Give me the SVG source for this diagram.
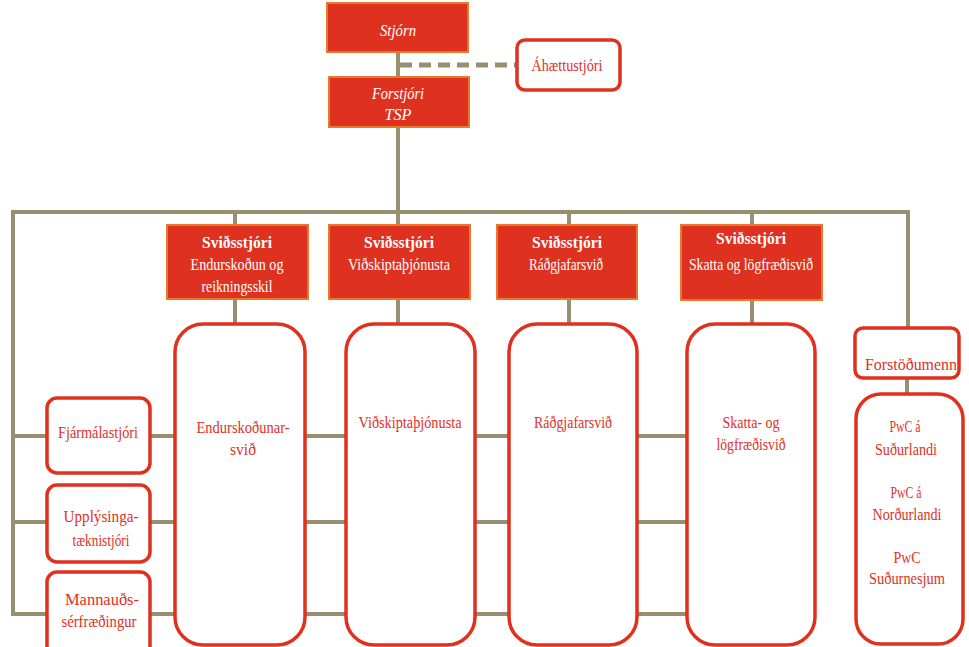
<svg xmlns="http://www.w3.org/2000/svg" width="969" height="647" viewBox="0 0 969 647">
<style>
.ln{stroke:#998F70;stroke-width:4;fill:none}
.dash{stroke:#998F70;stroke-width:5;fill:none;stroke-dasharray:12 7}
.fill{fill:#DF3120;stroke:#E8792A;stroke-width:2}
.out{fill:#fff;stroke:#E0311F;stroke-width:3.5}
.tw{fill:#fff;font-family:"Liberation Serif",serif;font-size:17px;text-anchor:middle}
.tr{fill:#E0311F;font-family:"Liberation Serif",serif;font-size:17px;text-anchor:middle}
.i{font-style:italic}
.b{font-weight:bold}
</style>
<rect width="969" height="647" fill="#fff"/>
<g id="connectors">
<line class="ln" x1="398" y1="52" x2="398" y2="77"/>
<line class="dash" x1="400" y1="65" x2="516" y2="65"/>
<line class="ln" x1="398" y1="127" x2="398" y2="212"/>
<polyline class="ln" points="13,614 13,212 908,212 908,328"/>
<line class="ln" x1="235" y1="212" x2="235" y2="323"/>
<line class="ln" x1="398" y1="212" x2="398" y2="323"/>
<line class="ln" x1="569" y1="212" x2="569" y2="323"/>
<line class="ln" x1="752" y1="212" x2="752" y2="323"/>
<line class="ln" x1="13" y1="436" x2="687" y2="436"/>
<line class="ln" x1="13" y1="522" x2="687" y2="522"/>
<line class="ln" x1="11" y1="614" x2="687" y2="614"/>
<line class="ln" x1="907" y1="378" x2="907" y2="394"/>
</g>
<g id="stjorn"><rect class="fill" x="327" y="3" width="141" height="49"/><text class="tw i" x="398" y="36" textLength="36" lengthAdjust="spacingAndGlyphs">Stjórn</text></g>
<g id="forstjori"><rect class="fill" x="329" y="77" width="140" height="50"/><text class="tw i" x="398" y="99" textLength="52" lengthAdjust="spacingAndGlyphs">Forstjóri</text><text class="tw i" x="398" y="120" textLength="27" lengthAdjust="spacingAndGlyphs">TSP</text></g>
<g id="ahaettustjori"><rect class="out" x="517" y="40" width="103" height="50" rx="8"/><text class="tr" x="567" y="71" textLength="71" lengthAdjust="spacingAndGlyphs">Áhættustjóri</text></g>
<g id="svid1"><rect class="fill" x="167" y="225" width="141" height="74"/><text class="tw b" x="237" y="248" textLength="70" lengthAdjust="spacingAndGlyphs">Sviðsstjóri</text><text class="tw" x="237" y="270" textLength="93" lengthAdjust="spacingAndGlyphs">Endurskoðun og</text><text class="tw" x="237" y="292" textLength="71" lengthAdjust="spacingAndGlyphs">reikningsskil</text></g>
<g id="svid2"><rect class="fill" x="329" y="225" width="141" height="74"/><text class="tw b" x="399" y="248" textLength="70" lengthAdjust="spacingAndGlyphs">Sviðsstjóri</text><text class="tw" x="399" y="270" textLength="102" lengthAdjust="spacingAndGlyphs">Viðskiptaþjónusta</text></g>
<g id="svid3"><rect class="fill" x="497" y="225" width="140" height="74"/><text class="tw b" x="567" y="248" textLength="70" lengthAdjust="spacingAndGlyphs">Sviðsstjóri</text><text class="tw" x="566" y="270" textLength="74" lengthAdjust="spacingAndGlyphs">Ráðgjafarsvið</text></g>
<g id="svid4"><rect class="fill" x="681" y="225" width="141" height="75"/><text class="tw b" x="751" y="244" textLength="70" lengthAdjust="spacingAndGlyphs">Sviðsstjóri</text><text class="tw" x="751" y="270" textLength="124" lengthAdjust="spacingAndGlyphs">Skatta og lögfræðisvið</text></g>
<g id="endurskodunarsvid"><rect class="out" x="175" y="324" width="130" height="321" rx="28"/><text class="tr" x="243" y="433" textLength="93" lengthAdjust="spacingAndGlyphs">Endurskoðunar-</text><text class="tr" x="243" y="455" textLength="26" lengthAdjust="spacingAndGlyphs">svið</text></g>
<g id="vidskiptathjonusta"><rect class="out" x="346" y="324" width="129" height="321" rx="28"/><text class="tr" x="410" y="428" textLength="103" lengthAdjust="spacingAndGlyphs">Viðskiptaþjónusta</text></g>
<g id="radgjafarsvid"><rect class="out" x="509" y="324" width="128" height="321" rx="28"/><text class="tr" x="573" y="428" textLength="78" lengthAdjust="spacingAndGlyphs">Ráðgjafarsvið</text></g>
<g id="skattasvid"><rect class="out" x="687" y="324" width="128" height="321" rx="28"/><text class="tr" x="751" y="428" textLength="57" lengthAdjust="spacingAndGlyphs">Skatta- og</text><text class="tr" x="751" y="450" textLength="69" lengthAdjust="spacingAndGlyphs">lögfræðisvið</text></g>
<g id="fjarmalastjori"><rect class="out" x="47" y="398" width="103" height="75" rx="10"/><text class="tr" x="98" y="438" textLength="80" lengthAdjust="spacingAndGlyphs">Fjármálastjóri</text></g>
<g id="upplysinga"><rect class="out" x="47" y="485" width="103" height="77" rx="10"/><text class="tr" x="101" y="522" textLength="75" lengthAdjust="spacingAndGlyphs">Upplýsinga-</text><text class="tr" x="101" y="546" textLength="57" lengthAdjust="spacingAndGlyphs">tæknistjóri</text></g>
<g id="mannauds"><rect class="out" x="47" y="572" width="103" height="85" rx="10"/><text class="tr" x="102" y="605" textLength="74" lengthAdjust="spacingAndGlyphs">Mannauðs-</text><text class="tr" x="99" y="627" textLength="75" lengthAdjust="spacingAndGlyphs">sérfræðingur</text></g>
<g id="forstodumenn"><rect class="out" x="855" y="328" width="104" height="50" rx="8"/><text class="tr" x="911" y="370" textLength="92" lengthAdjust="spacingAndGlyphs">Forstöðumenn</text></g>
<g id="pwc"><rect class="out" x="856" y="394" width="107" height="250" rx="25"/><text class="tr" x="905" y="432" textLength="31" lengthAdjust="spacingAndGlyphs">PwC á</text><text class="tr" x="906" y="455" textLength="62" lengthAdjust="spacingAndGlyphs">Suðurlandi</text><text class="tr" x="906" y="498" textLength="31" lengthAdjust="spacingAndGlyphs">PwC á</text><text class="tr" x="907" y="520" textLength="69" lengthAdjust="spacingAndGlyphs">Norðurlandi</text><text class="tr" x="907" y="563" textLength="27" lengthAdjust="spacingAndGlyphs">PwC</text><text class="tr" x="907" y="584" textLength="76" lengthAdjust="spacingAndGlyphs">Suðurnesjum</text></g>
</svg>
